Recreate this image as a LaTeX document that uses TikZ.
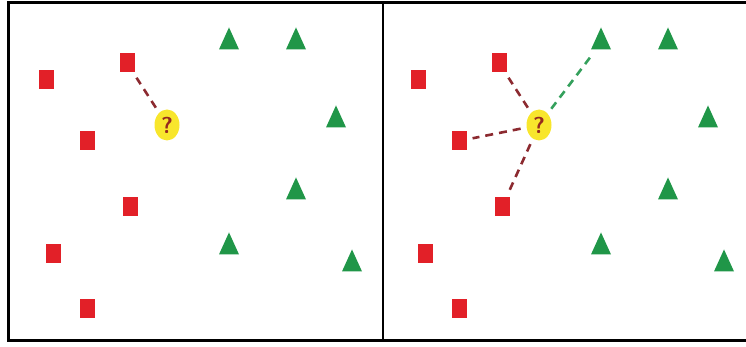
\documentclass[tikz,border=0pt]{standalone}
\usepackage{tikz}
\usetikzlibrary{shapes.geometric}

\definecolor{sqred}{RGB}{226,32,40}
\definecolor{trigreen}{RGB}{32,150,72}
\definecolor{qyellow}{RGB}{248,230,44}
\definecolor{qbrown}{RGB}{150,42,30}
\definecolor{linkred}{RGB}{140,42,48}
\definecolor{linkgreen}{RGB}{52,160,92}

\begin{document}
\begin{tikzpicture}[
  x=1pt, y=-1pt,
  sq/.style={fill=sqred, inner sep=0pt, minimum width=15pt, minimum height=19pt},
  tri/.style={fill=trigreen, inner sep=0pt, isosceles triangle, isosceles triangle apex angle=48,
    isosceles triangle stretches, shape border rotate=90, minimum width=20pt, minimum height=22pt},
  query/.style={ellipse, fill=qyellow, inner sep=0pt, minimum width=25pt, minimum height=31pt,
    text=qbrown, font=\sffamily\bfseries\fontsize{23}{23}\selectfont},
  near/.style={line width=2.6pt, dash pattern=on 8pt off 6pt, shorten <=6pt, shorten >=6pt}
]
\useasboundingbox (0,0) rectangle (746,347);

% frame and divider
\draw[line width=3pt] (746,3) -- (8,3) -- (8,340) -- (746,340);
\draw[line width=2.4pt] (383,3) -- (383,340);

% same points in both panels
\foreach \p/\dx in {l/0, r/372} {
  \begin{scope}[xshift=\dx]
    \foreach \x/\y [count=\i] in {127/63, 46/80, 87/141, 130/207, 53/253, 87/308}
      \node[sq] (\p sq\i) at (\x,\y) {};
    \foreach \x/\y [count=\i] in {229/43, 296/43, 336/121, 296/193, 229/248, 352/265}
      \node[tri] (\p tri\i) at (\x,\y) {};
    \node[query] (\p q) at (167,125) {?};
  \end{scope}
}

% nearest neighbours
\draw[near, linkred] (lq) -- (lsq1);
\draw[near, linkred] (rq) -- (rsq1);
\draw[near, linkred] (rq) -- (rsq3);
\draw[near, linkred] (rq) -- (rsq4);
\draw[near, linkgreen] (rq) -- (rtri1);
\end{tikzpicture}
\end{document}
